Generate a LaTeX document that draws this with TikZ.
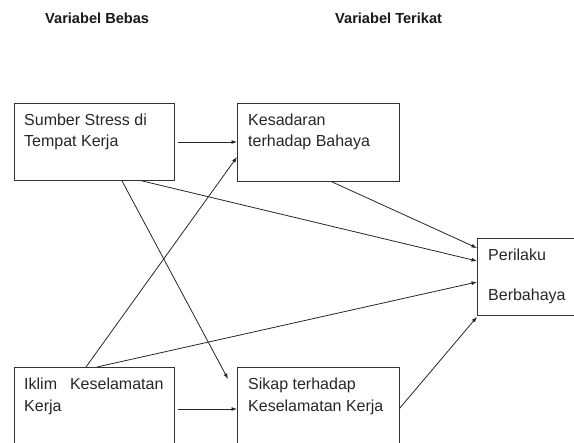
\documentclass[tikz,border=0pt]{standalone}
\usepackage{fontspec}
\setmainfont{Liberation Sans}
\usetikzlibrary{arrows.meta,calc}
\begin{document}
\begin{tikzpicture}[x=1pt,y=-1pt,
  box/.style={draw=black!80,line width=0.9pt,minimum width=#1,inner sep=0pt,anchor=north west},
  lbl/.style={anchor=base west,inner sep=0pt,font=\fontsize{16}{19}\selectfont,text=black!85},
  ttl/.style={anchor=base west,inner sep=0pt,font=\fontsize{14.6}{17}\selectfont\bfseries,text=black!90},
  con/.style={draw=black!85,line width=0.8pt,-{Latex[length=5.5pt,width=4pt]}}]
\useasboundingbox (0,0) rectangle (574,443);
\node[ttl] (t1) at (45,24) {Variabel Bebas};
\node[ttl] (t2) at (335,24) {Variabel Terikat};
\node[box=160pt,minimum height=77pt] (b1) at (14,103) {};
\node[box=162pt,minimum height=78pt] (b2) at (237,103) {};
\node[box=120pt,minimum height=77pt] (b3) at (477,238) {};
\node[box=160pt,minimum height=90pt] (b4) at (14,367) {};
\node[box=162pt,minimum height=90pt] (b5) at (237,367) {};
\node[lbl] (s1) at (24,126) {Sumber Stress di};
\node[lbl] (s2) at (24,147) {Tempat Kerja};
\node[lbl] (k1) at (248,126) {Kesadaran};
\node[lbl] (k2) at (248,147) {terhadap Bahaya};
\node[lbl] (p1) at (488,261) {Perilaku};
\node[lbl] (p2) at (488,301) {Berbahaya};
\node[lbl] (i1) at (24,390) {Iklim\hspace{13pt}Keselamatan};
\node[lbl] (i2) at (24,412) {Kerja};
\node[lbl] (c1) at (248,390) {Sikap terhadap};
\node[lbl] (c2) at (248,412) {Keselamatan Kerja};
\draw[con] ($(b1.north east)+(3,39)$) -- ($(b2.north west)+(0,39)$);
\draw[con] ($(b4.north west)+(72,0)$) -- ($(b2.north west)+(0,54)$);
\draw[con] ($(b1.south west)+(108,0)$) -- ($(b5.north west)+(-9,12)$);
\draw[con] ($(b1.south west)+(128,0)$) -- ($(b3.north west)+(0,23)$);
\draw[con] ($(b2.south west)+(95,0)$) -- ($(b3.north west)+(0,10)$);
\draw[con] ($(b4.north west)+(83,0)$) -- ($(b3.north west)+(0,44)$);
\draw[con] ($(b4.north east)+(3,42)$) -- ($(b5.north west)+(0,42)$);
\draw[con] ($(b5.north east)+(0,41)$) -- ($(b3.south west)+(0,1)$);
\end{tikzpicture}
\end{document}
